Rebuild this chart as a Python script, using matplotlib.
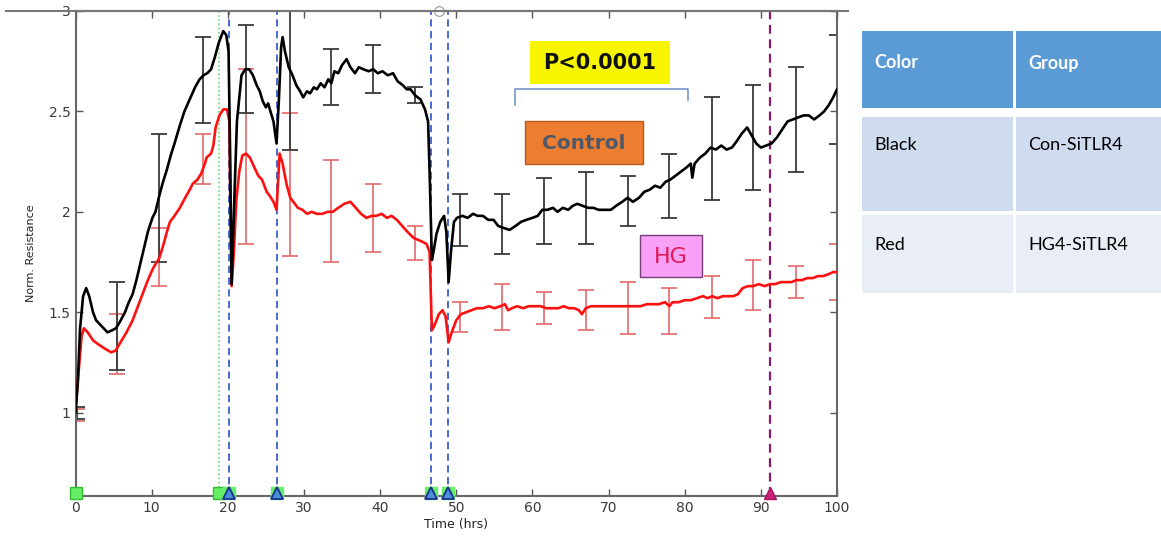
import matplotlib
matplotlib.use("Agg")
import matplotlib.pyplot as plt
from matplotlib.patches import Rectangle
from matplotlib.lines import Line2D
import numpy as np

# ---------------- data ----------------
black_t = [0, 0.3, 0.6, 1.0, 1.4, 1.8, 2.3, 2.7, 3.2, 3.7, 4.2, 4.8, 5.3, 5.8, 6.5, 7.0, 7.5, 8.0, 8.5, 9.0,
           9.5, 10.1, 10.5, 11.0, 11.5, 12.0, 12.5, 13.0, 13.7, 14.3, 15.0, 15.7, 16.3, 16.8, 17.3, 17.8, 18.3,
           18.8, 19.4, 19.8, 20.1, 20.3, 20.5, 20.8, 21.2, 21.8, 22.3, 22.8, 23.3, 23.8, 24.2, 24.6, 25.0, 25.3,
           25.6, 26.0, 26.4, 26.7, 27.0, 27.2, 27.5, 28.0, 28.5, 29.0, 29.5, 29.9, 30.4, 30.8, 31.3, 31.7, 32.2,
           32.7, 33.2, 33.6, 34.0, 34.5, 35.0, 35.6, 36.1, 36.7, 37.2, 37.8, 38.5, 39.1, 39.7, 40.3, 41.0, 41.7,
           42.3, 43.0, 43.5, 44.0, 44.6, 45.3, 45.9, 46.3, 46.5, 46.8, 47.1, 47.4, 47.9, 48.4, 48.7, 49.0, 49.3,
           49.7, 50.1, 50.8, 51.5, 52.2, 52.8, 53.5, 54.2, 54.9, 55.5, 56.2, 57.0, 57.8, 58.5, 59.2, 60.0, 60.7,
           61.3, 62.0, 62.7, 63.3, 64.0, 64.7, 65.3, 65.9, 66.6, 67.3, 68.0, 68.7, 69.5, 70.3, 71.0, 71.8, 72.5,
           73.2, 74.0, 74.7, 75.4, 76.1, 76.8, 77.5, 78.1, 78.8, 79.5, 80.2, 80.8, 81.0, 81.3, 82.0, 82.7, 83.4,
           84.1, 84.8, 85.5, 86.2, 86.8, 87.5, 88.2, 88.8, 89.4, 90.0, 90.7, 91.4, 92.1, 92.8, 93.5, 94.2, 94.9,
           95.6, 96.3, 97.0, 97.7, 98.3, 98.9, 99.5, 100.0]
black_v = [1.00, 1.15, 1.42, 1.58, 1.62, 1.58, 1.50, 1.46, 1.44, 1.42, 1.40, 1.41, 1.42, 1.45, 1.50, 1.55, 1.59,
           1.66, 1.74, 1.82, 1.90, 1.97, 2.00, 2.08, 2.15, 2.21, 2.28, 2.34, 2.43, 2.50, 2.56, 2.62, 2.66, 2.68,
           2.69, 2.71, 2.77, 2.84, 2.90, 2.88, 2.80, 2.30, 1.64, 2.00, 2.45, 2.68, 2.71, 2.71, 2.68, 2.63, 2.60,
           2.55, 2.52, 2.54, 2.50, 2.45, 2.34, 2.55, 2.82, 2.87, 2.80, 2.72, 2.68, 2.63, 2.60, 2.57, 2.60, 2.59,
           2.62, 2.61, 2.64, 2.62, 2.66, 2.64, 2.70, 2.69, 2.73, 2.76, 2.72, 2.69, 2.72, 2.71, 2.70, 2.71, 2.69,
           2.70, 2.68, 2.69, 2.65, 2.63, 2.61, 2.61, 2.58, 2.56, 2.51, 2.45, 2.20, 1.76, 1.82, 1.89, 1.95, 1.98,
           1.90, 1.65, 1.80, 1.95, 1.97, 1.98, 1.97, 1.99, 1.98, 1.98, 1.96, 1.96, 1.93, 1.92, 1.91, 1.93, 1.95,
           1.96, 1.97, 1.98, 2.01, 2.01, 2.02, 2.00, 2.02, 2.01, 2.03, 2.04, 2.03, 2.02, 2.02, 2.01, 2.01, 2.01,
           2.03, 2.05, 2.07, 2.05, 2.07, 2.10, 2.11, 2.13, 2.12, 2.15, 2.16, 2.18, 2.20, 2.22, 2.24, 2.17, 2.24,
           2.27, 2.29, 2.32, 2.31, 2.33, 2.31, 2.32, 2.35, 2.39, 2.42, 2.38, 2.34, 2.32, 2.33, 2.34, 2.37, 2.41,
           2.45, 2.46, 2.47, 2.48, 2.48, 2.46, 2.48, 2.50, 2.53, 2.57, 2.61]

red_t = [0, 0.4, 0.8, 1.1, 1.6, 2.3, 3.0, 3.8, 4.7, 5.3, 5.9, 6.7, 7.5, 8.2, 8.8, 9.5, 10.2, 11.0, 11.5, 12.0,
         12.4, 13.0, 13.7, 14.4, 15.0, 15.4, 16.0, 16.5, 17.0, 17.2, 17.8, 18.1, 18.4, 18.9, 19.4, 19.9, 20.2,
         20.35, 20.5, 20.8, 21.1, 21.5, 21.9, 22.4, 22.9, 23.5, 24.0, 24.5, 25.1, 25.5, 26.0, 26.4, 26.8, 27.2,
         27.7, 28.2, 28.6, 29.2, 29.8, 30.4, 31.0, 31.7, 32.4, 33.1, 33.8, 34.5, 35.3, 36.1, 36.8, 37.5, 38.2,
         38.9, 39.5, 40.2, 40.9, 41.5, 42.2, 42.9, 43.6, 44.4, 45.0, 45.6, 46.1, 46.5, 46.8, 47.2, 47.7, 48.2,
         48.6, 49.0, 49.4, 50.0, 50.6, 51.3, 52.0, 52.7, 53.5, 54.3, 55.0, 55.8, 56.4, 56.8, 57.3, 58.0, 58.8,
         59.5, 60.3, 61.1, 61.8, 62.6, 63.4, 64.1, 64.8, 65.5, 66.1, 66.5, 67.0, 67.7, 68.4, 69.2, 70.0, 70.8,
         71.6, 72.5, 73.3, 74.2, 75.0, 75.8, 76.6, 77.4, 78.0, 78.4, 79.2, 80.0, 80.8, 81.6, 82.4, 83.0, 83.6,
         84.3, 85.0, 85.7, 86.4, 87.0, 87.6, 88.3, 89.0, 89.7, 90.5, 91.2, 91.9, 92.6, 93.3, 94.0, 94.7, 95.4,
         96.1, 96.8, 97.5, 98.2, 98.9, 99.5, 100.0]
red_v = [1.01, 1.20, 1.38, 1.42, 1.40, 1.36, 1.34, 1.32, 1.30, 1.31, 1.35, 1.40, 1.46, 1.53, 1.59, 1.66, 1.72,
         1.77, 1.83, 1.90, 1.95, 1.98, 2.02, 2.07, 2.11, 2.14, 2.16, 2.19, 2.24, 2.27, 2.29, 2.33, 2.42, 2.48,
         2.51, 2.51, 2.45, 2.00, 1.63, 1.80, 2.05, 2.20, 2.28, 2.29, 2.27, 2.22, 2.18, 2.16, 2.10, 2.08, 2.05,
         2.01, 2.29, 2.24, 2.14, 2.07, 2.05, 2.02, 2.01, 1.99, 2.00, 1.99, 1.99, 2.00, 2.00, 2.02, 2.04, 2.05,
         2.02, 1.99, 1.97, 1.98, 1.98, 1.99, 1.97, 1.98, 1.96, 1.93, 1.90, 1.87, 1.86, 1.85, 1.84, 1.80, 1.41,
         1.44, 1.49, 1.51, 1.48, 1.35, 1.40, 1.46, 1.49, 1.50, 1.51, 1.52, 1.52, 1.53, 1.52, 1.53, 1.54, 1.51,
         1.52, 1.53, 1.52, 1.53, 1.53, 1.53, 1.52, 1.52, 1.52, 1.53, 1.52, 1.52, 1.51, 1.49, 1.52, 1.53, 1.53,
         1.53, 1.53, 1.53, 1.53, 1.53, 1.53, 1.53, 1.54, 1.54, 1.54, 1.55, 1.53, 1.55, 1.55, 1.56, 1.56, 1.57,
         1.58, 1.57, 1.58, 1.57, 1.58, 1.58, 1.58, 1.59, 1.62, 1.63, 1.63, 1.64, 1.63, 1.64, 1.64, 1.65, 1.65,
         1.65, 1.66, 1.66, 1.67, 1.67, 1.68, 1.68, 1.69, 1.70, 1.70]

err_t = [0.2, 5.5, 11.0, 16.7, 22.4, 28.2, 33.6, 39.1, 44.6, 50.5, 56.0, 61.5, 67.0, 72.5, 78.0, 83.6, 89.0, 94.6, 100.0]
black_lo = [0.97, 1.21, 1.75, 2.44, 2.49, 2.31, 2.53, 2.59, 2.54, 1.83, 1.79, 1.84, 1.84, 1.93, 1.97, 2.06, 2.11, 2.20, 2.34]
black_hi = [1.03, 1.65, 2.39, 2.87, 2.93, 3.09, 2.81, 2.83, 2.62, 2.09, 2.09, 2.17, 2.20, 2.18, 2.29, 2.57, 2.63, 2.72, 2.88]
red_lo = [0.96, 1.19, 1.63, 2.14, 1.84, 1.78, 1.75, 1.80, 1.76, 1.40, 1.41, 1.44, 1.41, 1.39, 1.39, 1.47, 1.51, 1.57, 1.56]
red_hi = [1.02, 1.49, 1.92, 2.39, 2.71, 2.49, 2.26, 2.14, 1.93, 1.55, 1.64, 1.60, 1.61, 1.65, 1.62, 1.68, 1.76, 1.73, 1.84]

green_events = [18.9]
blue_events = [20.2, 26.5, 46.7, 48.9]
purple_events = [91.2]
start_event = [0.0]

xticks = [0, 10, 20, 30, 40, 50, 60, 70, 80, 90, 100]
yticks = [1, 1.5, 2, 2.5, 3]

table_rows = [["Color", "Group"], ["Black", "Con-SiTLR4"], ["Red", "HG4-SiTLR4"]]

# ---------------- figure ----------------
W, H = 1161, 537
fig = plt.figure(figsize=(W / 100, H / 100), dpi=100)
fig.patch.set_facecolor("white")

def fx(px):
    return px / W

def fy(py):
    return 1 - py / H

ax = fig.add_axes([fx(75.5), fy(496), fx(837) - fx(75.5), fy(11) - fy(496)])
ax.set_xlim(0, 100)
ax.set_ylim(0.585, 3.0)

# event lines
for t in green_events:
    ax.axvline(t, color="#66dd66", lw=1.2, ls=(0, (1, 1.5)), zorder=1)
for t in blue_events:
    ax.axvline(t, color="#3a5fcd", lw=1.3, ls=(0, (4, 2.5)), zorder=1)
for t in purple_events:
    ax.axvline(t, color="#8b1a6b", lw=1.6, ls=(0, (4, 2.5)), zorder=1)

# error bars
bmid = [(a + b) / 2 for a, b in zip(black_lo, black_hi)]
rmid = [(a + b) / 2 for a, b in zip(red_lo, red_hi)]
ax.errorbar(err_t, rmid, yerr=[np.subtract(rmid, red_lo), np.subtract(red_hi, rmid)],
            fmt="none", ecolor="#e46a6a", elinewidth=1.2, capsize=6, capthick=1.2, zorder=2)
ax.errorbar(err_t, bmid, yerr=[np.subtract(bmid, black_lo), np.subtract(black_hi, bmid)],
            fmt="none", ecolor="#3a3a3a", elinewidth=1.3, capsize=6, capthick=1.3, zorder=2)

# curves
ax.plot(red_t, red_v, color="#ff1010", lw=1.9, zorder=3)
ax.plot(black_t, black_v, color="black", lw=1.9, zorder=4)

# bottom markers
ymk = 0.60
ax.plot(start_event + green_events, [ymk] * 2, "s", ms=8, mfc="#66ee66", mec="#33bb33",
        clip_on=False, zorder=6)
ax.plot(blue_events, [ymk] * len(blue_events), "s", ms=8, mfc="#66ee66", mec="#66ee66",
        clip_on=False, zorder=6)
ax.plot(blue_events, [ymk] * len(blue_events), "^", ms=8, mfc="#4a8fd8", mec="#1a2f8f",
        mew=1.3, clip_on=False, zorder=7)
ax.plot(purple_events, [ymk], "^", ms=9, mfc="#cc2277", mec="#aa1166", clip_on=False, zorder=7)
ax.plot([47.7], [3.0], "o", ms=7, mfc="white", mec="#aaaaaa", clip_on=False, zorder=7)

# axes styling
ax.set_xticks(xticks)
ax.set_yticks(yticks)
ax.set_yticklabels(["1", "1.5", "2", "2.5", "3"])
ax.tick_params(direction="in", top=True, right=True, length=5, width=1.0, colors="#555555",
               labelcolor="#3a3a3a", labelsize=10)
for s in ax.spines.values():
    s.set_color("#666666")
    s.set_linewidth(1.5)
ax.set_xlabel("Time (hrs)", fontsize=9, color="#222222", labelpad=2)
ax.set_ylabel("Norm. Resistance", fontsize=8, color="#222222", labelpad=9)

# extended top line
fig.add_artist(Line2D([fx(6), fx(848)], [fy(10.5), fy(10.5)], color="#777777", lw=1.5))

# annotation boxes
def px2data(px, py):
    return (px - 75.5) / 7.615, 1 + (413 - py) / 200.7

def box(x0, y0, x1, y1, fc, ec, lw):
    a = px2data(x0, y1)
    b = px2data(x1, y0)
    ax.add_patch(Rectangle(a, b[0] - a[0], b[1] - a[1], facecolor=fc, edgecolor=ec, lw=lw,
                           zorder=8, clip_on=False))

box(530, 42, 670, 85, "#f8f500", "none", 0)
cx, cy = px2data(600, 64)
ax.text(cx, cy, "P<0.0001", ha="center", va="center", fontsize=15, fontweight="bold",
        color="#111111", zorder=9)

box(525, 122, 643, 165, "#ed7d31", "#b55a1a", 1.0)
cx, cy = px2data(584, 144)
ax.text(cx, cy, "Control", ha="center", va="center", fontsize=14.5, fontweight="bold",
        color="#4f5866", zorder=9)

box(640, 235, 702, 277, "#f7a0f5", "#7a3d7a", 1.0)
cx, cy = px2data(671, 257)
ax.text(cx, cy, "HG", ha="center", va="center", fontsize=16, color="#e0195a", zorder=9)

# bracket
pts = [px2data(515, 106), px2data(515, 90), px2data(688, 90), px2data(688, 101)]
ax.plot([p[0] for p in pts], [p[1] for p in pts], color="#6a8cc6", lw=1.1, zorder=8, clip_on=False)

# ---------------- table ----------------
cols = [(862, 1013), (1016, 1161)]
rows = [(31, 108), (117, 211), (215, 293)]
row_colors = ["#5b9bd5", "#cfdbee", "#e9eef6"]
text_y = [63, 145, 245]
tfont = ["Lato", "DejaVu Sans"]
for r, (y0, y1) in enumerate(rows):
    for c, (x0, x1) in enumerate(cols):
        fig.add_artist(Rectangle((fx(x0), fy(y1)), fx(x1) - fx(x0), fy(y0) - fy(y1),
                                 transform=fig.transFigure, facecolor=row_colors[r],
                                 edgecolor="none"))
        fig.text(fx(x0 + 12), fy(text_y[r]), table_rows[r][c], ha="left", va="center",
                 fontsize=13, family=tfont,
                 color="white" if r == 0 else "black",
                 fontweight="bold" if r == 0 else "normal")

fig.savefig("out.png", dpi=100, facecolor="white")
